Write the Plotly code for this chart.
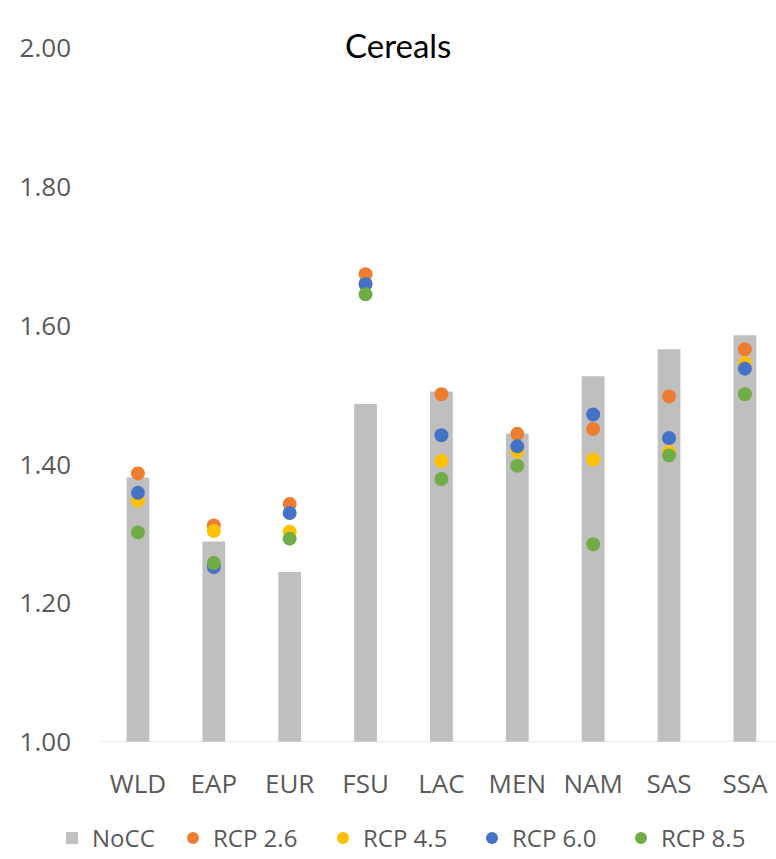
import plotly.graph_objects as go

regions = ["WLD", "EAP", "EUR", "FSU", "LAC", "MEN", "NAM", "SAS", "SSA"]
nocc   = [1.381, 1.289, 1.245, 1.487, 1.505, 1.444, 1.527, 1.566, 1.586]
rcp26  = [1.387, 1.312, 1.343, 1.674, 1.501, 1.444, 1.451, 1.498, 1.566]
rcp45  = [1.348, 1.304, 1.303, 1.660, 1.405, 1.419, 1.407, 1.418, 1.546]
rcp60  = [1.359, 1.252, 1.330, 1.660, 1.442, 1.426, 1.472, 1.438, 1.538]
rcp85  = [1.302, 1.258, 1.293, 1.645, 1.379, 1.398, 1.285, 1.413, 1.501]
yticks = [1.0, 1.2, 1.4, 1.6, 1.8, 2.0]
ytick_text = ["1.00", "1.20", "1.40", "1.60", "1.80", "2.00"]

FONT = "Open Sans, sans-serif"
TXT = "#595959"
L, T, W, H = 100, 48, 676, 694  # plot area in px

fig = go.Figure()
fig.add_trace(go.Bar(x=regions, y=nocc, name="NoCC", marker_color="#BFBFBF",
                     width=0.3, base=0, marker_line_width=0, legend="legend"))
series = [("RCP 2.6", rcp26, "#ED7D31"), ("RCP 4.5", rcp45, "#FFC000"),
          ("RCP 6.0", rcp60, "#4472C4"), ("RCP 8.5", rcp85, "#70AD47")]
for i, (name, vals, col) in enumerate(series):
    fig.add_trace(go.Scatter(x=regions, y=vals, name=name, mode="markers",
                             marker=dict(color=col, size=14), legend=f"legend{i+2}"))

# legend symbol centres (px) in the reference
sym_px = [72, 193, 343, 492, 641]
leg_y = (T + H - 861) / H
legends = {}
for i, sx in enumerate(sym_px):
    key = "legend" if i == 0 else f"legend{i+1}"
    legends[key] = dict(orientation="h", x=(sx - 20 - L) / W, xanchor="left",
                        y=leg_y, yanchor="bottom", bgcolor="rgba(0,0,0,0)",
                        font=dict(size=24, color=TXT, family=FONT),
                        itemwidth=30, itemsizing="constant", tracegroupgap=0)

fig.update_layout(
    width=776, height=859,
    margin=dict(l=L, r=0, t=T, b=859 - T - H, autoexpand=False),
    plot_bgcolor="white", paper_bgcolor="white",
    font=dict(family=FONT, size=20, color=TXT),
    showlegend=True,
    xaxis=dict(range=[-0.5, 8.41], showgrid=False, showline=False, ticks="",
               ticklabelstandoff=24, tickfont=dict(size=26, color=TXT), automargin=False),
    yaxis=dict(range=[1.0, 2.0], tickvals=yticks, ticktext=ytick_text, showgrid=False,
               zeroline=False, showline=False, ticklabelstandoff=28,
               tickfont=dict(size=26, color=TXT), automargin=False),
    shapes=[dict(type="line", xref="paper", yref="y", x0=0, x1=1, y0=1.0, y1=1.0,
                 line=dict(color="#D9D9D9", width=1))],
    annotations=[dict(text="Cereals", xref="paper", yref="paper", x=(398 - L) / W,
                      y=1 + 3 / H, xanchor="center", yanchor="middle", showarrow=False,
                      font=dict(size=33, color="black", family="Lato, Carlito, sans-serif"))],
    **legends,
)
fig.write_html("out.html", config={"displayModeBar": False},
               post_script="document.body.style.margin='0';document.body.style.overflow='hidden';")
